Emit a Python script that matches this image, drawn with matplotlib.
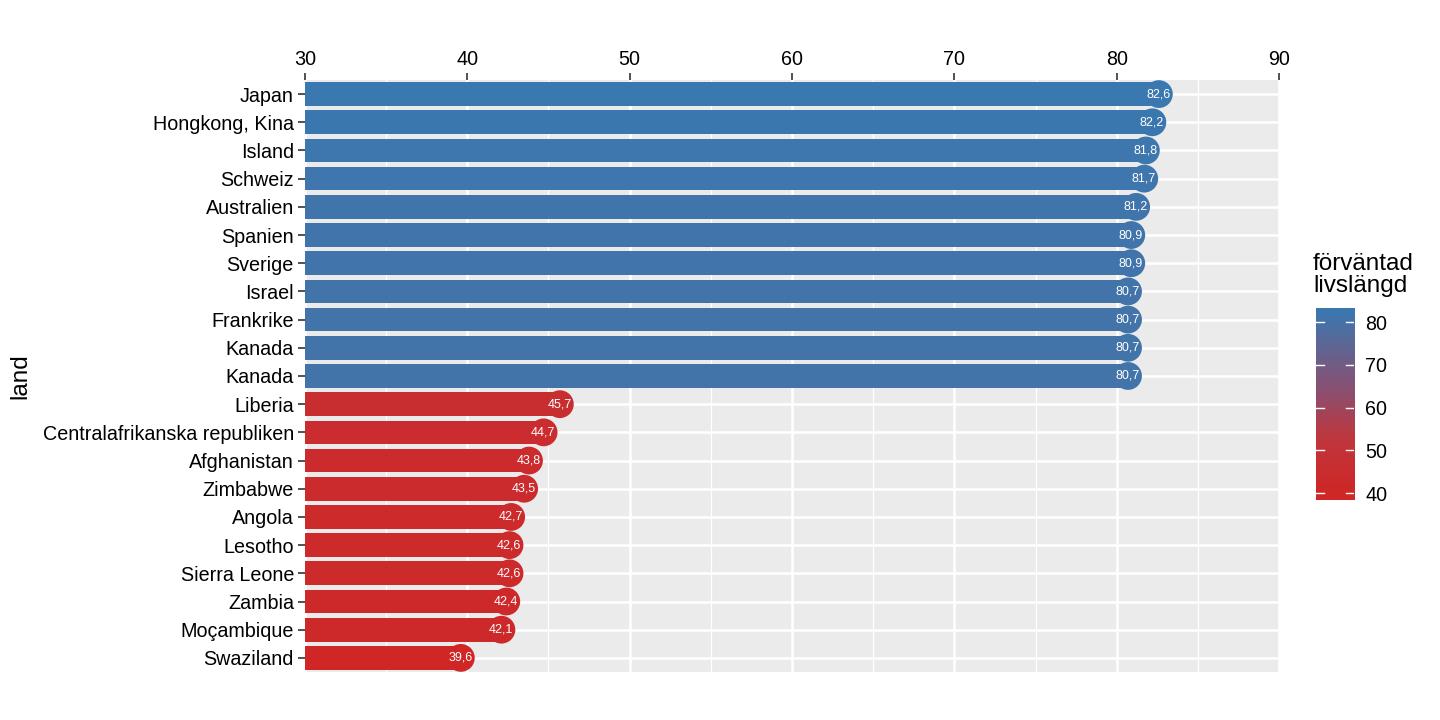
import numpy as np
import matplotlib
matplotlib.use("Agg")
import matplotlib.pyplot as plt
from matplotlib.colors import LinearSegmentedColormap, Normalize

plt.rcParams['font.family'] = ['Liberation Sans', 'DejaVu Sans']

countries = ["Japan", "Hongkong, Kina", "Island", "Schweiz", "Australien", "Spanien",
             "Sverige", "Israel", "Frankrike", "Kanada", "Kanada", "Liberia",
             "Centralafrikanska republiken", "Afghanistan", "Zimbabwe", "Angola",
             "Lesotho", "Sierra Leone", "Zambia", "Moçambique", "Swaziland"]
life = [82.6, 82.2, 81.8, 81.7, 81.2, 80.9, 80.9, 80.7, 80.7, 80.7, 80.7,
        45.7, 44.7, 43.8, 43.5, 42.7, 42.6, 42.6, 42.4, 42.1, 39.6]
x_ticks = [30, 40, 50, 60, 70, 80, 90]
cbar_ticks = [40, 50, 60, 70, 80]

cmap = LinearSegmentedColormap.from_list(
    "rb", [(0.0, "#D02626"), (0.3, "#C0363C"), (0.55, "#8E4E6E"), (1.0, "#3A78B0")])
norm = Normalize(vmin=min(life), vmax=max(life))

fig = plt.figure(figsize=(14.4, 7.2), dpi=100)
ax = fig.add_axes([0.2118, 0.0667, 0.6764, 0.8222])
ax.set_facecolor("#EBEBEB")

y = np.arange(len(countries))
cols = [cmap(norm(v)) for v in life]

ax.barh(y, [v - 30 for v in life], left=30, height=0.84, color=cols, zorder=3)
ax.scatter(life, y, s=400, c=cols, zorder=4, linewidths=0)
for v, yy in zip(life, y):
    ax.annotate(f"{v:.1f}".replace(".", ","), xy=(v, yy), xytext=(8.5, 0),
                textcoords="offset points", ha="right", va="center",
                color="white", fontsize=9, zorder=5)

ax.set_xlim(30, 90)
ax.set_ylim(len(countries) - 0.5, -0.5)
ax.set_xticks(x_ticks)
ax.set_xticks([35, 45, 55, 65, 75, 85], minor=True)
ax.set_yticks(y)
ax.set_yticklabels(countries)
ax.xaxis.tick_top()
ax.tick_params(axis="x", which="major", labelsize=14.2, length=5, width=1.2,
               color="#333333", pad=3)
ax.tick_params(axis="x", which="minor", length=0)
ax.tick_params(axis="y", labelsize=14.2, length=5, width=1.2, color="#333333", pad=3)
ax.grid(True, which="major", color="white", linewidth=1.8, zorder=1)
ax.grid(True, which="minor", axis="x", color="white", linewidth=0.9, zorder=1)
ax.set_axisbelow(True)
for s in ax.spines.values():
    s.set_visible(False)
ax.set_ylabel("land", fontsize=17.5, labelpad=8)

# colour bar
cax = fig.add_axes([0.9139, 0.3056, 0.0264, 0.2667])
lo, hi = 38.4, 83.3
grad = np.linspace(lo, hi, 256).reshape(-1, 1)
cax.imshow(grad, aspect="auto", cmap=cmap, norm=norm, origin="lower",
           extent=[0, 1, lo, hi])
cax.set_xlim(0, 1)
cax.set_ylim(lo, hi)
cax.set_xticks([])
for t in cbar_ticks:
    cax.plot([0, 0.2], [t, t], color="white", lw=1)
    cax.plot([0.8, 1], [t, t], color="white", lw=1)
cax.yaxis.tick_right()
cax.set_yticks(cbar_ticks)
cax.tick_params(axis="y", length=0, labelsize=14.2, pad=8)
for s in cax.spines.values():
    s.set_visible(False)
fig.text(0.9118, 0.5875, "förväntad\nlivslängd", fontsize=17.5, ha="left",
         va="bottom", linespacing=1.0)

fig.savefig("out.png", dpi=100)
